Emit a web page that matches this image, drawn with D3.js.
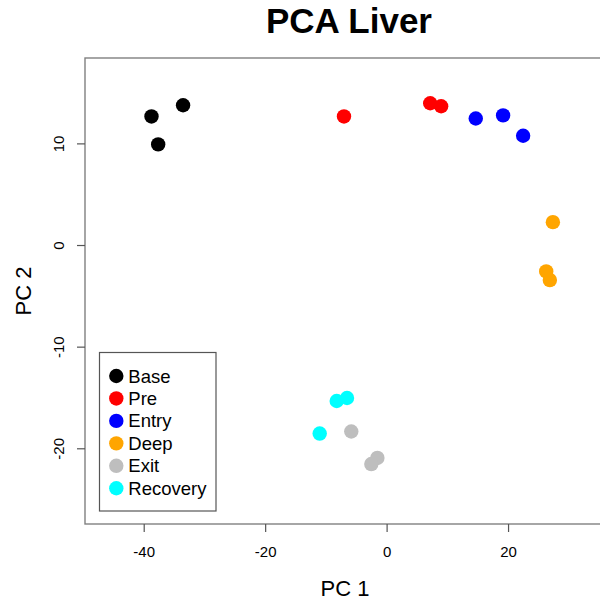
<!DOCTYPE html>
<html>
<head>
<meta charset="utf-8">
<script src="https://cdn.jsdelivr.net/npm/d3@7"></script>
<style>
  body { margin: 0; background: #fff; }
  text { font-family: "Liberation Sans", Arial, Helvetica, sans-serif; fill: #000; }
</style>
</head>
<body>
<div id="chart"></div>
<script>
var width = 600, height = 601;
var plot = {left: 85, right: 613, top: 58, bottom: 524};

// PCA scores
var stage = ["Base","Base","Base","Pre","Pre","Pre","Entry","Entry","Entry",
             "Deep","Deep","Deep","Exit","Exit","Exit","Recovery","Recovery","Recovery"];
var pc1 = [-38.8, -37.7, -33.6, -7.1, 7.1, 8.9, 14.6, 19.1, 22.4,
           27.3, 26.2, 26.8, -5.9, -1.6, -2.6, -11.1, -8.3, -6.6];
var pc2 = [12.7, 9.95, 13.8, 12.7, 14.0, 13.7, 12.5, 12.8, 10.8,
           2.3, -2.55, -3.4, -18.3, -20.9, -21.5, -18.5, -15.3, -15.0];

var groups = ["Base","Pre","Entry","Deep","Exit","Recovery"];
var groupColors = ["#000000","#FF0000","#0000FF","#FFA500","#BEBEBE","#00FFFF"];
var xTicks = [-40, -20, 0, 20];
var yTicks = [-20, -10, 0, 10];

var color = d3.scaleOrdinal().domain(groups).range(groupColors);

var x = d3.scaleLinear().domain([-49.75, 37.2]).range([plot.left, plot.right]);
var y = d3.scaleLinear().domain([-27.4, 18.45]).range([plot.bottom, plot.top]);

var svg = d3.select("#chart").append("svg")
  .attr("width", width)
  .attr("height", height);

// plot frame
svg.append("rect")
  .attr("x", plot.left).attr("y", plot.top)
  .attr("width", plot.right - plot.left)
  .attr("height", plot.bottom - plot.top)
  .attr("fill", "none")
  .attr("stroke", "#808080")
  .attr("stroke-width", 1.4);

// x axis
var xAxis = svg.append("g").attr("transform", "translate(0," + plot.bottom + ")");
xAxis.selectAll("line").data(xTicks).enter().append("line")
  .attr("x1", function(d){ return x(d); })
  .attr("x2", function(d){ return x(d); })
  .attr("y1", 0).attr("y2", 8)
  .attr("stroke", "#555").attr("stroke-width", 1.2);
xAxis.selectAll("text").data(xTicks).enter().append("text")
  .attr("x", function(d){ return x(d); })
  .attr("y", 33)
  .attr("text-anchor", "middle")
  .style("font-size", "15px")
  .text(function(d){ return d; });

// y axis
var yAxis = svg.append("g").attr("transform", "translate(" + plot.left + ",0)");
yAxis.selectAll("line").data(yTicks).enter().append("line")
  .attr("x1", -8).attr("x2", 0)
  .attr("y1", function(d){ return y(d); })
  .attr("y2", function(d){ return y(d); })
  .attr("stroke", "#555").attr("stroke-width", 1.2);
yAxis.selectAll("text").data(yTicks).enter().append("text")
  .attr("transform", function(d){ return "translate(-21.5," + y(d) + ") rotate(-90)"; })
  .attr("text-anchor", "middle")
  .style("font-size", "15px")
  .text(function(d){ return d; });

// titles
svg.append("text")
  .attr("x", 349).attr("y", 33)
  .attr("text-anchor", "middle")
  .style("font-size", "35px")
  .style("font-weight", "bold")
  .text("PCA Liver");

svg.append("text")
  .attr("x", 345).attr("y", 596)
  .attr("text-anchor", "middle")
  .style("font-size", "22px")
  .text("PC 1");

svg.append("text")
  .attr("transform", "translate(31," + ((plot.top + plot.bottom) / 2) + ") rotate(-90)")
  .attr("text-anchor", "middle")
  .style("font-size", "22px")
  .text("PC 2");

// points
svg.append("g").selectAll("circle")
  .data(pc1.map(function(d, i){ return {x: d, y: pc2[i], g: stage[i]}; }))
  .enter().append("circle")
  .attr("cx", function(d){ return x(d.x); })
  .attr("cy", function(d){ return y(d.y); })
  .attr("r", 7.2)
  .attr("fill", function(d){ return color(d.g); });

// legend
var legend = svg.append("g");
legend.append("rect")
  .attr("x", 99.5).attr("y", 352.5)
  .attr("width", 116.5).attr("height", 158.5)
  .attr("fill", "#fff")
  .attr("stroke", "#555")
  .attr("stroke-width", 1.2);

var rows = legend.selectAll("g.row").data(groups).enter().append("g")
  .attr("class", "row")
  .attr("transform", function(d, i){ return "translate(116.3," + (376 + i * 22.45) + ")"; });
rows.append("circle")
  .attr("r", 7.2)
  .attr("fill", function(d){ return color(d); });
rows.append("text")
  .attr("x", 12)
  .attr("y", 6.5)
  .style("font-size", "18.5px")
  .text(function(d){ return d; });
</script>
</body>
</html>
